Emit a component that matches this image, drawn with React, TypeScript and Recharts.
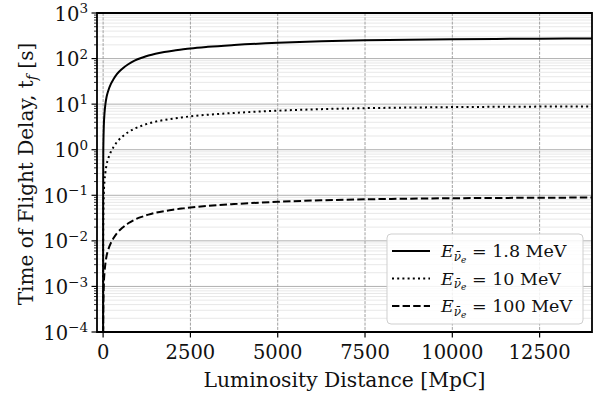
import React from "react";
import {
  LineChart, Line, XAxis, YAxis, CartesianGrid, ReferenceArea
} from "recharts";

// luminosity distance [MpC]
const distance = [0.0005, 0.5, 5, 20, 40, 66, 100, 150, 220, 300, 400, 550, 720, 900, 1150, 1300, 1500, 1750, 2000, 2250, 2500, 3000, 3750, 5000, 6250, 7500, 8750, 10000, 11250, 12500, 14000];

// time of flight delay [s]
const delay18MeV = [0.00009, 0.09, 0.85, 3.3, 6.3, 10, 14.5, 20, 27.5, 35.5, 46, 60, 75, 90, 106.7, 116.4, 127.6, 139, 149, 158, 167, 181, 198, 222, 240, 252, 260, 266, 270, 273, 276];
const delay10MeV = [0.0000029, 0.0029, 0.0275, 0.107, 0.204, 0.32, 0.47, 0.65, 0.89, 1.15, 1.49, 1.94, 2.43, 2.91, 3.45, 3.77, 4.13, 4.5, 4.82, 5.11, 5.4, 5.86, 6.41, 7.18, 7.77, 8.16, 8.41, 8.61, 8.74, 8.83, 8.93];
const delay100MeV = [0.00000003, 0.000029, 0.000275, 0.00107, 0.00204, 0.0032, 0.0047, 0.0065, 0.0089, 0.0115, 0.0149, 0.0194, 0.0243, 0.0291, 0.0345, 0.0377, 0.0413, 0.045, 0.0482, 0.0511, 0.054, 0.0586, 0.0641, 0.0718, 0.0777, 0.0816, 0.0841, 0.0861, 0.0874, 0.0883, 0.0893];

const xTicks = [0, 2500, 5000, 7500, 10000, 12500];
const yMajor = [1e-4, 1e-3, 1e-2, 1e-1, 1, 10, 100, 1000];
const yMinor = yMajor.slice(0, -1).flatMap((v) => [2, 3, 4, 5, 6, 7, 8, 9].map((m) => +(v * m).toPrecision(3)));

const legendItems = [
  { label: "1.8 MeV", dash: undefined },
  { label: "10 MeV", dash: "2 3.2" },
  { label: "100 MeV", dash: "7.4 3.2" },
];

const data = distance.map((d, i) => ({
  d,
  e18: delay18MeV[i],
  e10: delay10MeV[i],
  e100: delay100MeV[i],
}));

const FONT = "'DejaVu Serif', serif";
const TXT = "#111";
const PLOT_LEFT = 97;
const PLOT_BOTTOM = 332;

const YTick = (props: any) => {
  const { y, payload } = props;
  const v = payload.value;
  const lg = Math.log10(v);
  const major = Math.abs(lg - Math.round(lg)) < 1e-6;
  if (!major) {
    return <line x1={PLOT_LEFT - 3} x2={PLOT_LEFT} y1={y} y2={y} stroke="#000" strokeWidth={0.8} />;
  }
  const exp = Math.round(lg);
  return (
    <g>
      <line x1={PLOT_LEFT - 5.5} x2={PLOT_LEFT} y1={y} y2={y} stroke="#000" strokeWidth={1.2} />
      <text x={PLOT_LEFT - 9} y={y + 7.6} textAnchor="end" fontFamily={FONT} fontSize={19.5} fill={TXT}>
        10<tspan dy={-7.5} fontSize={13.5}>{exp < 0 ? "\u2212" + Math.abs(exp) : exp}</tspan>
      </text>
    </g>
  );
};

const XTick = (props: any) => {
  const { x, payload } = props;
  return (
    <g>
      <line x1={x} x2={x} y1={PLOT_BOTTOM} y2={PLOT_BOTTOM + 5.5} stroke="#000" strokeWidth={1.2} />
      <text x={x} y={PLOT_BOTTOM + 27} textAnchor="middle" fontFamily={FONT} fontSize={19.5} fill={TXT}>
        {payload.value}
      </text>
    </g>
  );
};

const App: React.FC = () => {
  return (
    <div style={{ position: "absolute", left: 0, top: 0, width: 603, height: 394, background: "#fff" }}>
      <LineChart width={603} height={394} data={data} margin={{ top: 13, right: 11, bottom: 0, left: 0 }}>
        <CartesianGrid vertical={false} horizontalValues={yMinor} stroke="#e2e2e2" strokeWidth={0.8} />
        <CartesianGrid vertical={false} horizontalValues={yMajor} stroke="#b0b0b0" strokeWidth={1} />
        <CartesianGrid horizontal={false} verticalValues={xTicks} stroke="#a0a0a0" strokeWidth={1} strokeDasharray="3 1.3" />
        <XAxis
          dataKey="d"
          type="number"
          domain={[-175, 14000]}
          allowDataOverflow
          ticks={xTicks}
          interval={0}
          height={62}
          axisLine={false}
          tickLine={false}
          tick={<XTick />}
        />
        <YAxis
          scale="log"
          type="number"
          domain={[1e-4, 1e3]}
          allowDataOverflow
          ticks={[...yMajor, ...yMinor].sort((a, b) => a - b)}
          interval={0}
          width={97}
          axisLine={false}
          tickLine={false}
          tick={<YTick />}
        />
        <Line dataKey="e18" type="monotone" stroke="#000" strokeWidth={2} dot={false} isAnimationActive={false} />
        <Line dataKey="e10" type="monotone" stroke="#000" strokeWidth={2} strokeDasharray="2 3.2" dot={false} isAnimationActive={false} />
        <Line dataKey="e100" type="monotone" stroke="#000" strokeWidth={2} strokeDasharray="7.4 3.2" dot={false} isAnimationActive={false} />
        <ReferenceArea x1={-175} x2={14000} y1={1e-4} y2={1e3} fill="none" stroke="#000" strokeWidth={1.8} ifOverflow="visible" />
      </LineChart>
      <svg width={603} height={394} style={{ position: "absolute", left: 0, top: 0, pointerEvents: "none" }}>
        <text x={344.5} y={387} textAnchor="middle" fontFamily={FONT} fontSize={20.3} fill={TXT}>
          Luminosity Distance [MpC]
        </text>
        <text x={33} y={174} transform="rotate(-90 33 174)" textAnchor="middle" fontFamily={FONT} fontSize={20} fill={TXT}>
          Time of Flight Delay, t<tspan dy={4} fontSize={14} fontStyle="italic">f</tspan><tspan dy={-4}> [s]</tspan>
        </text>
        <rect x={387} y={234} width={196} height={90} rx={4} fill="#fff" fillOpacity={0.85} stroke="#cfcfcf" strokeWidth={1} />
        {legendItems.map((it, i) => {
          const cy = 251 + i * 27.5;
          return (
            <g key={it.label}>
              <line x1={392} x2={430} y1={cy} y2={cy} stroke="#000" strokeWidth={2} strokeDasharray={it.dash} />
              <text x={441} y={cy + 6} fontFamily={FONT} fontSize={17.5} fill={TXT}>
                <tspan fontStyle="italic">E</tspan>
                <tspan dy={3.5} fontSize={12} fontStyle="italic">{"\u03BD\u0304"}</tspan>
                <tspan dy={2} fontSize={9} fontStyle="italic">e</tspan>
                <tspan dy={-5.5}>{" = " + it.label}</tspan>
              </text>
            </g>
          );
        })}
      </svg>
    </div>
  );
};

export default App;
